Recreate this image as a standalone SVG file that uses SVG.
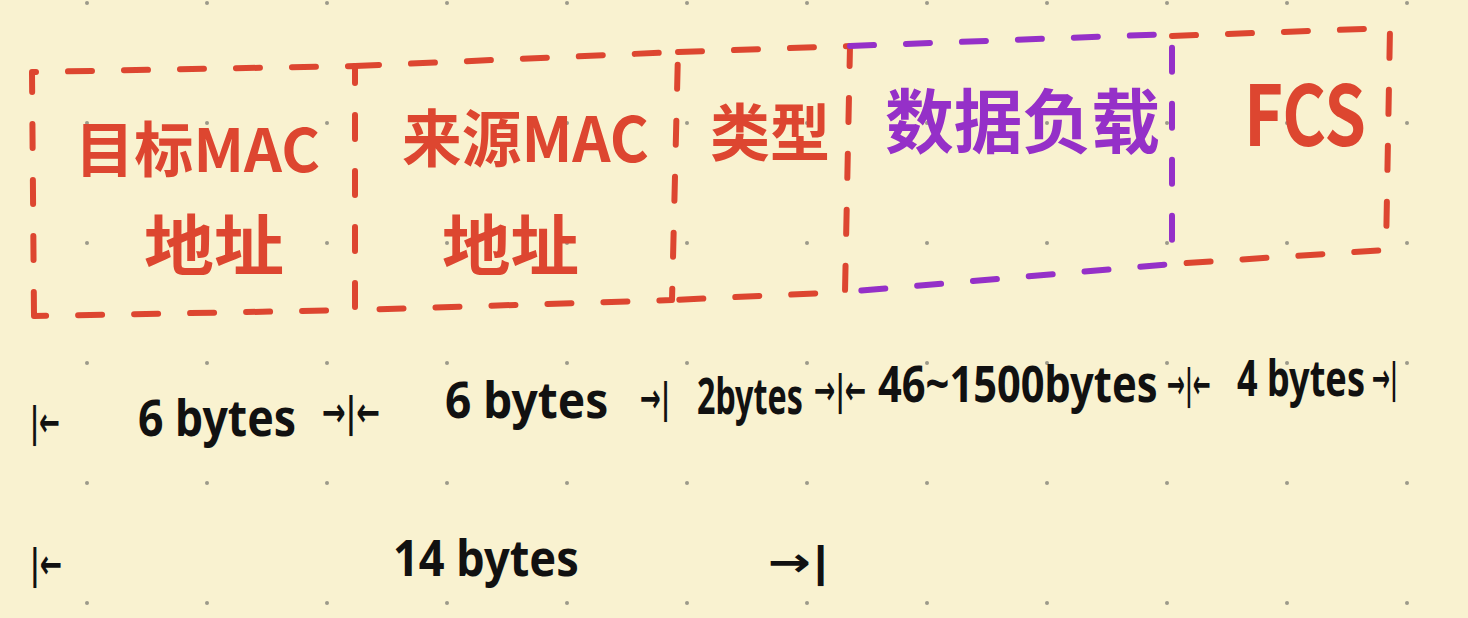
<svg xmlns="http://www.w3.org/2000/svg" width="1468" height="618" viewBox="0 0 1468 618">
  <defs>
    <pattern id="dots" x="87" y="3" width="120" height="120" patternUnits="userSpaceOnUse">
      <circle cx="0" cy="0" r="2" fill="#9c9a8a"/>
      <circle cx="120" cy="0" r="2" fill="#9c9a8a"/>
      <circle cx="0" cy="120" r="2" fill="#9c9a8a"/>
      <circle cx="120" cy="120" r="2" fill="#9c9a8a"/>
    </pattern>
    <style>
      .red{fill:none;stroke:#DD4630;stroke-width:6;stroke-linecap:round;stroke-linejoin:round;stroke-dasharray:24 32}
      .pur{fill:none;stroke:#9530C8;stroke-width:6;stroke-linecap:round;stroke-linejoin:round;stroke-dasharray:24 32}
      .tr{fill:#DD4630;font-family:"Noto Sans CJK SC","Noto Sans",sans-serif;font-weight:700}
      .tp{fill:#9530C8;font-family:"Noto Sans CJK SC","Noto Sans",sans-serif;font-weight:700}
      .tb{fill:#111111;font-weight:700;font-family:"Noto Sans","Liberation Sans",sans-serif;font-size:50px}
      .ar{fill:#111111;font-weight:700;font-family:"DejaVu Sans",sans-serif;font-size:40px}
    </style>
  </defs>
  <rect width="1468" height="618" fill="#F9F2D0"/>
  <rect width="1468" height="618" fill="url(#dots)"/>

  <g id="dst-mac">
    <path class="red" d="M34,316 L32,72 L355,66 L355,310 Z"/>
    <text class="tr" x="75" y="172" font-size="60" textLength="245" lengthAdjust="spacingAndGlyphs">目标MAC</text>
    <text class="tr" x="144" y="270" font-size="66" textLength="140" lengthAdjust="spacingAndGlyphs">地址</text>
  </g>
  <g id="src-mac">
    <path class="red" d="M355,66 L678,52 L672,300 L355,310"/>
    <text class="tr" x="402" y="162" font-size="62" textLength="247" lengthAdjust="spacingAndGlyphs">来源MAC</text>
    <text class="tr" x="442" y="270" font-size="66" textLength="137" lengthAdjust="spacingAndGlyphs">地址</text>
  </g>
  <g id="type">
    <path class="red" d="M678,52 L850,46 L845,292 L672,300"/>
    <text class="tr" x="710" y="156" font-size="62" textLength="120" lengthAdjust="spacingAndGlyphs">类型</text>
  </g>
  <g id="payload">
    <path class="pur" d="M850,46 L1172,34 L1172,264 L845,292"/>
    <text class="tp" x="885" y="148" font-size="70" textLength="275" lengthAdjust="spacingAndGlyphs">数据负载</text>
  </g>
  <g id="fcs">
    <path class="red" d="M1172,36 L1390,28 L1386,250 L1172,264"/>
    <text class="tr" x="1244" y="146" font-size="84" font-weight="500" textLength="122" lengthAdjust="spacingAndGlyphs">FCS</text>
  </g>

  <g id="connectors">
    <text class="ar" transform="translate(30,436) scale(0.6,1)" textLength="50" lengthAdjust="spacingAndGlyphs">|←</text>
    <text class="tb" transform="translate(138,436) scale(0.92,1)" textLength="172" lengthAdjust="spacingAndGlyphs">6 bytes</text>
    <text class="ar" transform="translate(322,426) scale(0.69,1)" textLength="84" lengthAdjust="spacingAndGlyphs">→|←</text>
    <text class="tb" transform="translate(445,418) scale(0.95,1)" textLength="172" lengthAdjust="spacingAndGlyphs">6 bytes</text>
    <text class="ar" transform="translate(640,412) scale(0.6,1)" textLength="50" lengthAdjust="spacingAndGlyphs">→|</text>
    <text class="tb" transform="translate(697,414) scale(0.67,1)" textLength="158" lengthAdjust="spacingAndGlyphs">2bytes</text>
    <text class="ar" transform="translate(814,404) scale(0.62,1)" textLength="84" lengthAdjust="spacingAndGlyphs">→|←</text>
    <text class="tb" transform="translate(878,402) scale(0.85,1)" textLength="329" lengthAdjust="spacingAndGlyphs">46~1500bytes</text>
    <text class="ar" transform="translate(1167,398) scale(0.52,1)" textLength="84" lengthAdjust="spacingAndGlyphs">→|←</text>
    <text class="tb" transform="translate(1237,396) scale(0.74,1)" textLength="173" lengthAdjust="spacingAndGlyphs">4 bytes</text>
    <text class="ar" transform="translate(1372,392) scale(0.52,1)" textLength="50" lengthAdjust="spacingAndGlyphs">→|</text>
    <text class="ar" transform="translate(30,578) scale(0.64,1)" textLength="50" lengthAdjust="spacingAndGlyphs">|←</text>
    <text class="tb" transform="translate(393,576) scale(0.925,1)" textLength="201" lengthAdjust="spacingAndGlyphs">14 bytes</text>
    <text class="ar" transform="translate(768,576) scale(1.24,1)" textLength="50" lengthAdjust="spacingAndGlyphs">→|</text>
  </g>
</svg>
